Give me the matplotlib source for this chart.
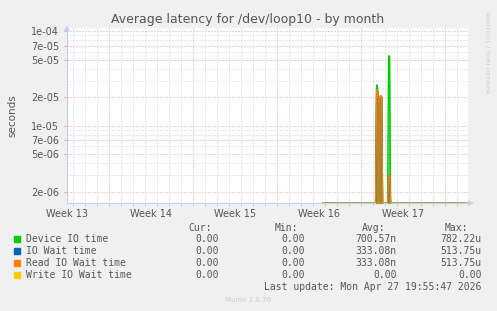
import numpy as np
import matplotlib
matplotlib.use("Agg")
import matplotlib.pyplot as plt
from matplotlib.ticker import FixedLocator, NullFormatter

# ---------------- data ----------------
title = "Average latency for /dev/loop10 - by month"
ylabel = "seconds"
week_labels = ["Week 13", "Week 14", "Week 15", "Week 16", "Week 17"]
week_label_days = [0, 7, 14, 21, 28]
x_range_days = [0, 33.44]
y_range = [1.5e-6, 1.08e-4]
ytick_vals = [2e-6, 5e-6, 7e-6, 1e-5, 2e-5, 5e-5, 7e-5, 1e-4]
ytick_labels = ["2e-06", "5e-06", "7e-06", "1e-05", "2e-05", "5e-05", "7e-05", "1e-04"]

# time in days from left edge of graph (2-hour consolidated samples around the spikes)
t_days = [21.35, 25.74, 25.823, 25.907, 25.99, 26.073, 26.157, 26.24, 26.323,
          26.74, 26.823, 26.907, 26.99, 33.35]
device_io = [0, 0, 2.71e-5, 2.5e-5, 1.8e-5, 1.8e-5, 2.07e-5, 2.0e-5, 0,
             0, 5.5e-5, 5.4e-5, 0, 0]
io_wait = [0, 0, 2.44e-5, 2.3e-5, 1.8e-5, 1.8e-5, 2.07e-5, 2.0e-5, 0,
           0, 3.0e-6, 3.0e-6, 0, 0]
read_io_wait = [0, 0, 2.44e-5, 2.3e-5, 1.8e-5, 1.8e-5, 2.07e-5, 2.0e-5, 0,
                0, 3.0e-6, 3.0e-6, 0, 0]
write_io_wait = [0, 0, 0, 0, 0, 0, 0, 0, 0, 0, 0, 0, 0, 0]

series_names = ["Device IO time", "IO Wait time", "Read IO Wait time", "Write IO Wait time"]
series_colors = ["#00CC00", "#0066B3", "#FF8000", "#FFCC00"]
series_values = [device_io, io_wait, read_io_wait, write_io_wait]
cur_vals = ["0.00", "0.00", "0.00", "0.00"]
min_vals = ["0.00", "0.00", "0.00", "0.00"]
avg_vals = ["700.57n", "333.08n", "333.08n", "0.00"]
max_vals = ["782.22u", "513.75u", "513.75u", "0.00"]
last_update = "Last update: Mon Apr 27 19:55:47 2026"
munin_ver = "Munin 2.0.76"
side_text = "RRDTOOL / TOBI OETIKER"

# ---------------- figure ----------------
W, H = 497, 311
fig = plt.figure(figsize=(W / 100, H / 100), dpi=100, facecolor="#F0F0F0")

def fx(x):
    return x / W

def fy(y):
    return 1 - y / H

left_px, right_px, top_px, bot_px = 66.7, 468.0, 28.0, 203.3
ax = fig.add_axes([fx(left_px), fy(bot_px), fx(right_px - left_px), (bot_px - top_px) / H])
ax.set_facecolor("white")
ax.set_yscale("log")
ax.set_xlim(*x_range_days)
ax.set_ylim(*y_range)

txt = "#555555"
red_grid = "#E6A3A3"
gray_grid = "#CFCFCF"
dots = (0, (1, 2))

# horizontal grid
for dec in [1e-6, 1e-5, 1e-4]:
    for m in range(1, 10):
        v = m * dec
        if not (y_range[0] < v < y_range[1] * 1.01):
            continue
        major = m in (1, 2, 5, 7)
        ax.axhline(v, color=red_grid if major else gray_grid, lw=0.72,
                   ls=dots, zorder=1)
# vertical grid
for d in np.arange(0.5, x_range_days[1], 1.0):
    major = abs(((d - 3.5) / 7) - round((d - 3.5) / 7)) < 1e-6
    ax.axvline(d, color=red_grid if major else gray_grid, lw=0.72, ls=dots, zorder=1)

# data
ymin = y_range[0]
for vals, c in zip(series_values, series_colors):
    v = np.array(vals, dtype=float)
    v = np.where(v > 0, v, ymin)
    ax.fill_between(t_days, ymin, v, color=c, alpha=0.7, lw=0, zorder=3)
    ax.plot(t_days, v, color=c, lw=1.0, zorder=4, solid_joinstyle="miter")

# ticks / labels
ax.yaxis.set_major_locator(FixedLocator(ytick_vals))
ax.set_yticklabels(ytick_labels)
ax.yaxis.set_minor_locator(FixedLocator([]))
ax.yaxis.set_minor_formatter(NullFormatter())
ax.tick_params(axis="y", which="major", length=2, width=0.7, color=red_grid,
               labelsize=7, labelcolor=txt, pad=3.4)
ax.xaxis.set_major_locator(FixedLocator(week_label_days))
ax.set_xticklabels(week_labels)
ax.tick_params(axis="x", which="major", length=0, labelsize=7, labelcolor=txt, pad=4)
ax.xaxis.set_minor_locator(FixedLocator(list(np.arange(0.5, x_range_days[1], 1.0))))
ax.tick_params(axis="x", which="minor", length=2, width=0.7, color=gray_grid, direction="out")

for s in ["top", "right"]:
    ax.spines[s].set_visible(False)
for s in ["left", "bottom"]:
    ax.spines[s].set_color("#C8CCF0")
    ax.spines[s].set_linewidth(0.8)
    ax.spines[s].set_zorder(2)

# axis arrows
ax.plot([0], [1], marker="^", ms=5, color="#C8CCF0", transform=ax.transAxes,
        clip_on=False, zorder=5, markeredgewidth=0)
ax.plot([1.007], [0], marker=">", ms=5, color="#C8CCF0", transform=ax.transAxes,
        clip_on=False, zorder=5, markeredgewidth=0)

fig.text(fx(12), fy(115.5), ylabel, rotation=90, ha="center", va="center",
         fontsize=7.5, color=txt)
fig.text(fx(248), fy(19.5), title, ha="center", va="center", fontsize=9, color=txt)
fig.text(fx(487), fy(52.5), side_text, rotation=270, ha="center", va="center",
         fontsize=4.6, color="#CCCCCC")

# legend
mono = "DejaVu Sans Mono"
fs = 7
fig.text(fx(212.3), fy(227.7), "Cur:", ha="right", va="center", family=mono, fontsize=fs, color=txt)
fig.text(fx(298.3), fy(227.7), "Min:", ha="right", va="center", family=mono, fontsize=fs, color=txt)
fig.text(fx(385.0), fy(227.7), "Avg:", ha="right", va="center", family=mono, fontsize=fs, color=txt)
fig.text(fx(468.3), fy(227.7), "Max:", ha="right", va="center", family=mono, fontsize=fs, color=txt)
for i, name in enumerate(series_names):
    y = 239.3 + 12 * i
    fig.patches.append(plt.Rectangle((fx(14), fy(y + 3)), fx(6), 6 / H,
                                     transform=fig.transFigure, color=series_colors[i]))
    fig.text(fx(26), fy(y), name, ha="left", va="center", family=mono, fontsize=fs, color=txt)
    fig.text(fx(219.0), fy(y), cur_vals[i], ha="right", va="center", family=mono, fontsize=fs, color=txt)
    fig.text(fx(305.0), fy(y), min_vals[i], ha="right", va="center", family=mono, fontsize=fs, color=txt)
    fig.text(fx(396.7), fy(y), avg_vals[i], ha="right", va="center", family=mono, fontsize=fs, color=txt)
    fig.text(fx(481.7), fy(y), max_vals[i], ha="right", va="center", family=mono, fontsize=fs, color=txt)
fig.text(fx(481.7), fy(287.3), last_update, ha="right", va="center", family=mono,
         fontsize=fs, color=txt)
fig.text(fx(247.7), fy(300.3), munin_ver, ha="center", va="center", fontsize=5,
         color="#CCCCCC")

fig.savefig("out.png", dpi=100, facecolor=fig.get_facecolor())
